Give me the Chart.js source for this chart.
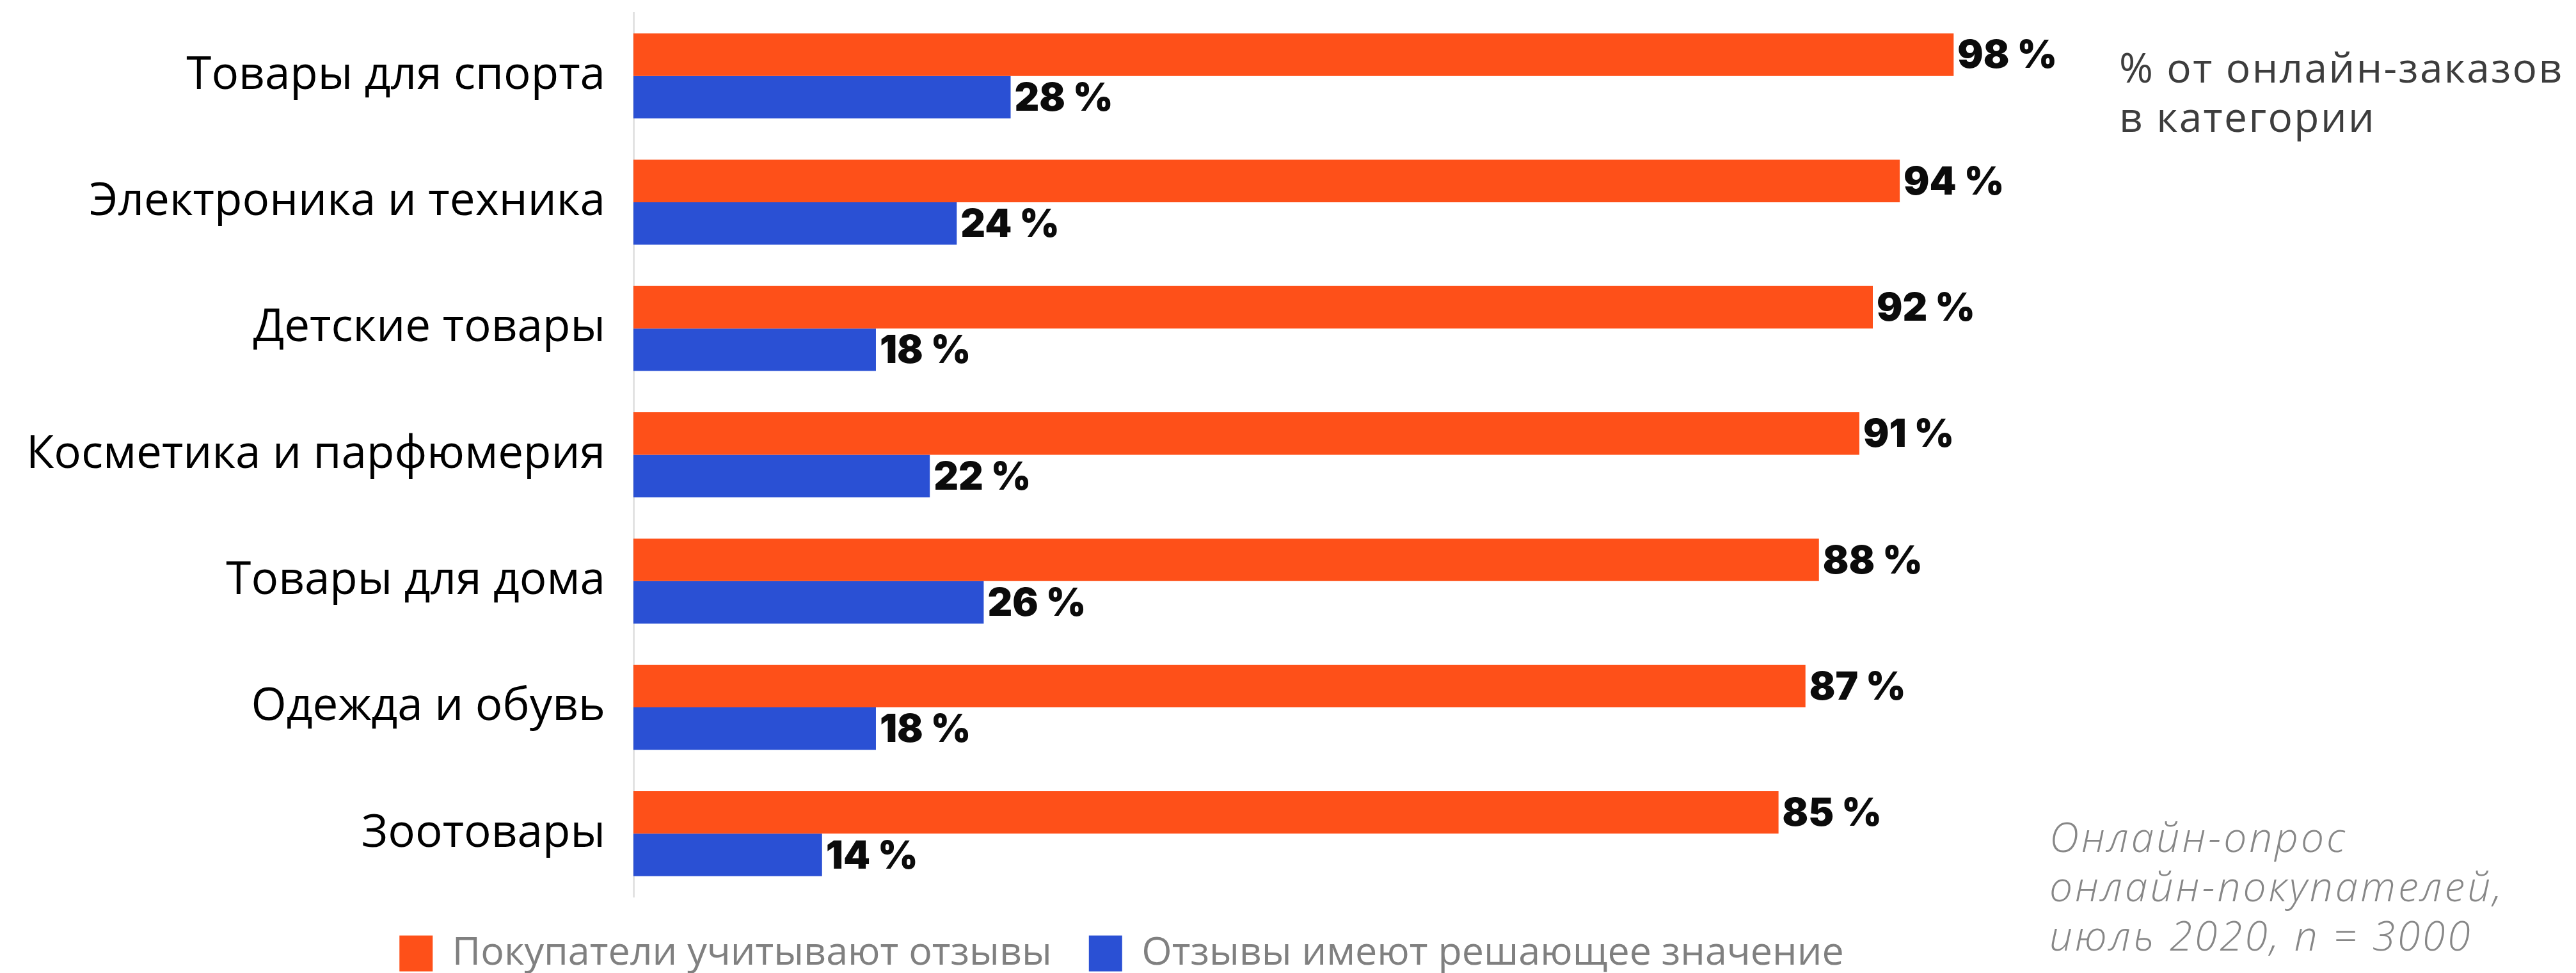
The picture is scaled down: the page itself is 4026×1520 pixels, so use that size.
<!DOCTYPE html>
<html lang="ru">
<head>
<meta charset="utf-8">
<script src="https://cdn.jsdelivr.net/npm/chart.js@4.4.1/dist/chart.umd.min.js"></script>
<style>
  html, body { margin: 0; padding: 0; background: #fff; }
  #wrap { position: relative; width: 4026px; height: 1520px; overflow: hidden; }
  #chart { position: absolute; left: 0; top: 0; }
  .note { position: absolute; font-family: "Open Sans", sans-serif; line-height: 77px; white-space: nowrap; }
  #unit { left: 3312px; top: 66px; font-size: 64px; letter-spacing: 2.4px; color: #3d3d3d; }
  #source { left: 3203px; top: 1268px; font-size: 64px; letter-spacing: 4px; color: #878787; font-style: italic; font-weight: 300; }
</style>
</head>
<body>
<div id="wrap">
  <canvas id="chart" width="4026" height="1520"></canvas>
  <div class="note" id="unit">% от онлайн-заказов<br>в категории</div>
  <div class="note" id="source">Онлайн-опрос<br>онлайн-покупателей,<br>июль 2020, n = 3000</div>
</div>
<script>
// Product categories, top to bottom
const categories = [
  'Товары для спорта',
  'Электроника и техника',
  'Детские товары',
  'Косметика и парфюмерия',
  'Товары для дома',
  'Одежда и обувь',
  'Зоотовары'
];

// Share of online orders, %
const considerReviews = [98, 94, 92, 91, 88, 87, 85];
const decisiveReviews = [28, 24, 18, 22, 26, 18, 14];

const seriesNames = ['Покупатели учитывают отзывы', 'Отзывы имеют решающее значение'];
const seriesColors = ['#FE5019', '#2A50D4'];
const valueSuffix = ' %';

// Writes the percentage just past the end of every bar
const valueLabels = {
  id: 'valueLabels',
  afterDatasetsDraw(chart) {
    const ctx = chart.ctx;
    ctx.save();
    ctx.font = '900 60px Inter, "Noto Sans", sans-serif';
    ctx.fillStyle = '#0b0b0b';
    ctx.textAlign = 'left';
    ctx.textBaseline = 'middle';
    chart.data.datasets.forEach((ds, i) => {
      chart.getDatasetMeta(i).data.forEach((bar, j) => {
        ctx.fillText(ds.data[j] + valueSuffix, bar.x + 6, bar.y + 3);
      });
    });
    ctx.restore();
  }
};

new Chart(document.getElementById('chart'), {
  type: 'bar',
  data: {
    labels: categories,
    datasets: [
      { label: seriesNames[0], data: considerReviews, backgroundColor: seriesColors[0] },
      { label: seriesNames[1], data: decisiveReviews, backgroundColor: seriesColors[1] }
    ]
  },
  options: {
    indexAxis: 'y',
    responsive: false,
    animation: false,
    datasets: {
      bar: { categoryPercentage: 0.673, barPercentage: 1.0, borderWidth: 0 }
    },
    layout: { padding: { top: 20, right: 520, bottom: -10, left: 0 } },
    scales: {
      x: { display: false, min: 0, max: 119.5 },
      y: {
        // fixed label column; no extra room above/below the category band
        afterFit(scale) {
          scale.width = 990;
          scale.paddingTop = 0;
          scale.paddingBottom = 0;
        },
        grid: { display: false, drawTicks: false },
        border: { display: true, color: '#E2E2E2', width: 3 },
        ticks: {
          padding: 44,
          color: '#000',
          font: { family: '"Open Sans", sans-serif', size: 71 }
        }
      }
    },
    plugins: {
      tooltip: { enabled: false },
      legend: {
        position: 'bottom',
        align: 'center',
        labels: {
          boxWidth: 52,
          boxHeight: 56,
          padding: 58,
          color: '#808080',
          font: { family: '"Open Sans", sans-serif', size: 61 }
        }
      }
    }
  },
  plugins: [valueLabels]
});
</script>
</body>
</html>
